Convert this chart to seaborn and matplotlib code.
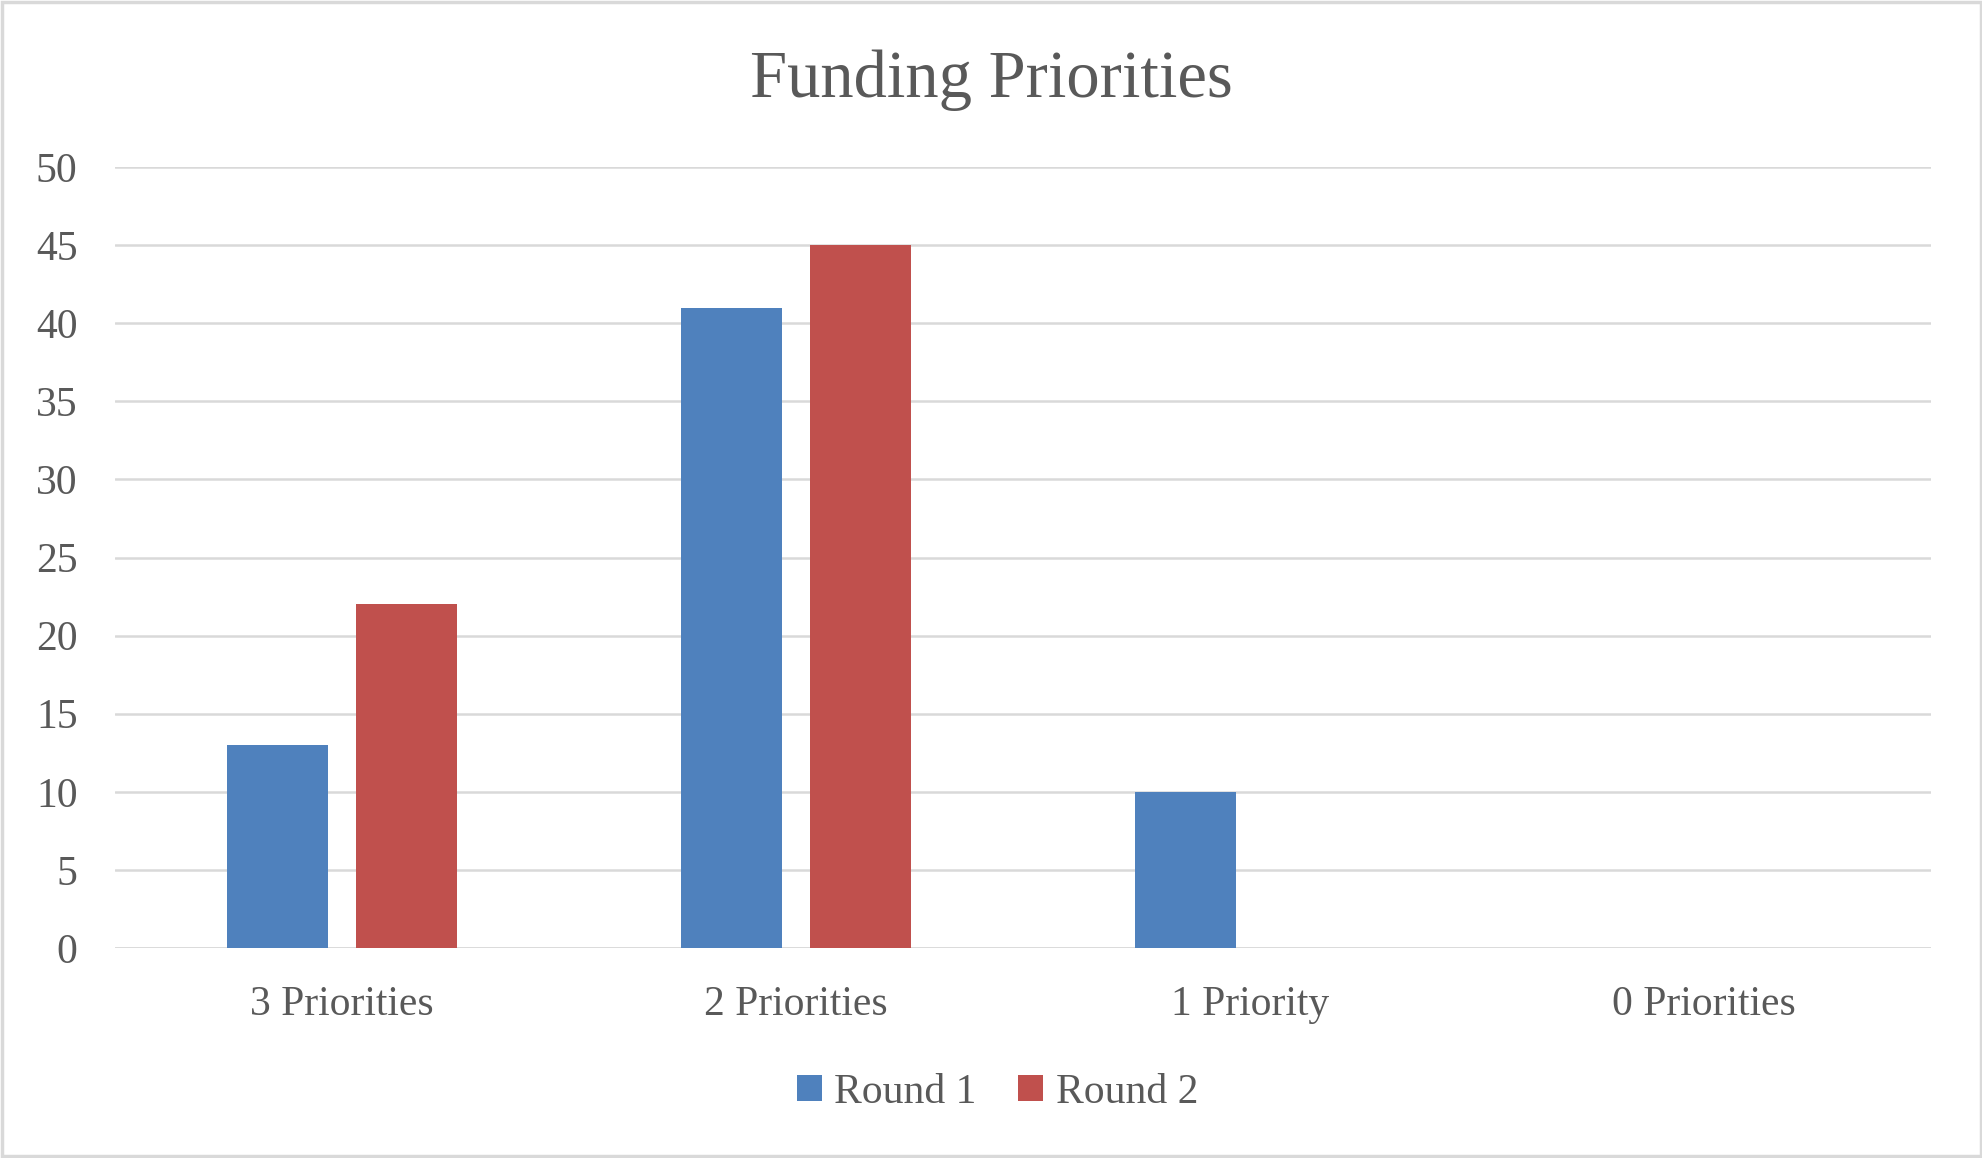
import matplotlib
matplotlib.use("Agg")
import matplotlib.pyplot as plt
import seaborn as sns
import pandas as pd
from matplotlib.patches import Rectangle

categories = ["3 Priorities", "2 Priorities", "1 Priority", "0 Priorities"]
round1 = [13, 41, 10, 0]
round2 = [22, 45, 0, 0]
series_names = ["Round 1", "Round 2"]
yticks = [0, 5, 10, 15, 20, 25, 30, 35, 40, 45, 50]

df = pd.DataFrame({
    "category": categories * 2,
    "value": round1 + round2,
    "series": [series_names[0]] * 4 + [series_names[1]] * 4,
})

sns.set_theme(style="white")
plt.rcParams['font.family'] = ['Liberation Serif', 'DejaVu Serif']
text_color = "#595959"
grid_color = "#d9d9d9"

fig = plt.figure(figsize=(19.83, 11.58), dpi=100)
ax = fig.add_axes([0.058, 0.1813, 0.9158, 0.6745])

sns.barplot(data=df, x="category", y="value", hue="series", order=categories,
            hue_order=series_names, palette=["#4F81BD", "#C0504D"],
            width=0.568, gap=0.21, ax=ax, legend=True, saturation=1,
            linewidth=0)

ax.set_ylim(0, 50)
ax.set_xlim(-0.5, 3.5)
ax.set_yticks(yticks)
ax.yaxis.grid(True, color=grid_color, linewidth=1.8)
ax.set_axisbelow(True)
for s in ax.spines.values():
    s.set_visible(False)
ax.axhline(0, color=grid_color, linewidth=1.8, zorder=0.5)
ax.tick_params(axis="both", length=0, labelsize=30, colors=text_color)
ax.tick_params(axis="y", pad=27)
ax.tick_params(axis="x", pad=27)
ax.set_xlabel("")
ax.set_ylabel("")
for lab in ax.get_xticklabels() + ax.get_yticklabels():
    lab.set_color(text_color)

fig.text(0.5, 0.931, "Funding Priorities", ha="center", va="center",
         fontsize=48, color=text_color)

leg = ax.legend(loc="center", bbox_to_anchor=(0.486, -0.185), ncol=2, frameon=False,
                fontsize=30, handlelength=0.6, handleheight=0.6, handletextpad=0.3,
                columnspacing=1.0)
for t in leg.get_texts():
    t.set_color(text_color)

fig.patches.append(Rectangle((0.001, 0.002), 0.998, 0.996, transform=fig.transFigure,
                             fill=False, edgecolor=grid_color, linewidth=2.5))

fig.savefig("out.png", dpi=100, facecolor="white")
